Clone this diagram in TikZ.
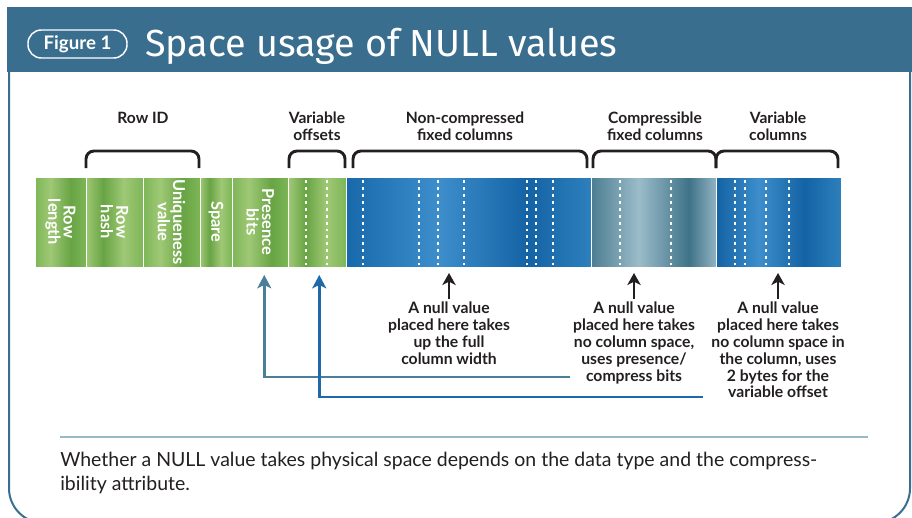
\documentclass[tikz,border=0pt]{standalone}
\usepackage{fontspec}
\setmainfont{Lato}
\newfontfamily\titlefont{Fira Sans}
\usetikzlibrary{positioning,arrows.meta,calc}

\definecolor{headblue}{HTML}{3A6E8F}
\definecolor{inkgrey}{HTML}{231F20}
\definecolor{bitsteal}{HTML}{4A7F99}
\definecolor{offsblue}{HTML}{1F68A9}
\definecolor{rulegrey}{HTML}{9BB8C9}
% greens of the row header
\definecolor{gD}{HTML}{68A444}
\definecolor{gM}{HTML}{7DB657}
\definecolor{gL}{HTML}{9FC875}
% blues of the column parts
\definecolor{ncA}{HTML}{1869AB}
\definecolor{ncB}{HTML}{3D8ECB}
\definecolor{ncC}{HTML}{1463A5}
\definecolor{ncD}{HTML}{2D80BC}
\definecolor{cpA}{HTML}{4D7D92}
\definecolor{cpB}{HTML}{9BBCC9}
\definecolor{cpC}{HTML}{3F7388}
\definecolor{cpD}{HTML}{93B4C3}

\pgfdeclarehorizontalshading{greenA}{100bp}{color(0bp)=(gM); color(25bp)=(gM); color(40bp)=(gL); color(60bp)=(gD); color(75bp)=(gM); color(100bp)=(gM)}
\pgfdeclarehorizontalshading{greenB}{100bp}{color(0bp)=(gL); color(25bp)=(gL); color(40bp)=(gD); color(58bp)=(gL); color(75bp)=(gM); color(100bp)=(gM)}
\pgfdeclarehorizontalshading{noncomp}{100bp}{color(0bp)=(ncA); color(25bp)=(ncA); color(44bp)=(ncB); color(62bp)=(ncC); color(75bp)=(ncD); color(100bp)=(ncD)}
\pgfdeclarehorizontalshading{compr}{100bp}{color(0bp)=(cpA); color(25bp)=(cpA); color(44bp)=(cpB); color(64bp)=(cpC); color(75bp)=(cpD); color(100bp)=(cpD)}
\pgfdeclarehorizontalshading{varcol}{100bp}{color(0bp)=(ncC); color(25bp)=(ncC); color(42bp)=(ncB); color(60bp)=(ncC); color(75bp)=(ncD); color(100bp)=(ncD)}

\newcommand{\px}{0.75pt}

\tikzset{
    seg/.style={shade, draw=white, line width=0.6pt, inner sep=0pt, outer sep=0pt,
        minimum height=90*\px},
    seglabel/.style={rotate=-90, align=center, text=white, inner sep=0pt,
        font=\bfseries\fontsize{12.3}{11.5}\selectfont},
    toplabel/.style={align=center, text=inkgrey, inner sep=0pt,
        font=\bfseries\fontsize{11.7}{12.8}\selectfont},
    note/.style={align=center, text=inkgrey, inner sep=0pt, anchor=north,
        font=\bfseries\fontsize{11.8}{12.6}\selectfont},
    brace/.style={draw=inkgrey, line width=2.2pt, rounded corners=6pt},
    dotline/.style={white, line width=1.5pt, dash pattern=on 2.2pt off 3pt},
    nullarrow/.style={-{Stealth[length=9pt, width=10pt, inset=2.5pt]}, inkgrey, line width=2pt,
        shorten >=4.5pt, shorten <=2pt},
    bitsline/.style={-{Stealth[length=10pt, width=10.5pt, inset=2.5pt]}, bitsteal, line width=2.2pt, shorten >=6pt},
    offsline/.style={-{Stealth[length=10pt, width=10.5pt, inset=2.5pt]}, offsblue, line width=2.2pt, shorten >=6pt},
}

\begin{document}
\begin{tikzpicture}[x=0.75pt, y=-0.75pt, node distance=0pt]
\useasboundingbox (0,0) rectangle (912,517);

% frame and heading band
\draw[headblue, line width=1.5pt, rounded corners=26pt] (9,60) -- (9,523) -- (910,523) -- (910,60);
\fill[headblue] (7,7) rectangle (912,72);
\node[draw=white, line width=1.1pt, rounded corners=10pt, minimum width=99*\px, minimum height=28*\px,
    inner sep=0pt, text=white, font=\bfseries\fontsize{14}{14}\selectfont] (fig) at (77.5,44) {Figure 1};
\node[anchor=base west, inner sep=0pt, text=white, font=\titlefont\fontsize{28.3}{30}\selectfont] (title) at (145,56) {Space usage of NULL values};

% the row
\node[seg, minimum width=51*\px, shading=greenA] (rowlen) at (60.5,222) {};
\node[seg, minimum width=57*\px, shading=greenB] (rowhash) [right=of rowlen] {};
\node[seg, minimum width=57*\px, shading=greenA] (uniq) [right=of rowhash] {};
\node[seg, minimum width=32*\px, shading=greenB] (spare) [right=of uniq] {};
\node[seg, minimum width=56.5*\px, shading=greenA] (presence) [right=of spare] {};
\node[seg, minimum width=57.5*\px, shading=greenB] (varoff) [right=of presence] {};
\node[seg, minimum width=245*\px, shading=noncomp] (fixed) [right=of varoff] {};
\node[seg, minimum width=125.5*\px, shading=compr] (comp) [right=of fixed] {};
\node[seg, minimum width=125*\px, shading=varcol] (varcols) [right=of comp] {};

\node[seglabel] (lrowlen) at (rowlen) {Row\\length};
\node[seglabel] (lrowhash) at (rowhash) {Row\\hash};
\node[seglabel] (luniq) at (uniq) {Uniqueness\\value};
\node[seglabel] (lspare) at (spare) {Spare};
\node[seglabel] (lpresence) at (presence) {Presence\\bits};

% column boundaries
\draw[dotline] (306,180) -- (306,265) (327,180) -- (327,265);
\draw[dotline] (363,180) -- (363,265) (419,180) -- (419,265) (438,180) -- (438,265)
    (464,180) -- (464,265) (527,180) -- (527,265) (536,180) -- (536,265) (553,180) -- (553,265);
\draw[dotline] (620,180) -- (620,265) (671,180) -- (671,265);
\draw[dotline] (735,180) -- (735,265) (745,180) -- (745,265) (766,180) -- (766,265) (789,180) -- (789,265);

% groups above the row
\draw[brace] (86,168) |- (143,151) -| (199,168);
\draw[brace] (289,168) |- (317,151) -| (345,168);
\draw[brace] (353,168) |- (470,151) -| (587,168);
\draw[brace] (593,168) |- (655,151) -| (716,168);
\draw[brace] (716,168) |- (777,151) -| (838,168);

\node[toplabel] (rowid) at (143,118) {Row ID};
\node[toplabel] (offsets) at (317,126.5) {Variable\\offsets};
\node[toplabel] (noncomp) at (465,126.5) {Non-compressed\\fixed columns};
\node[toplabel] (compressible) at (655,126.5) {Compressible\\fixed columns};
\node[toplabel] (variable) at (778,126.5) {Variable\\columns};

% where a null value goes
\node[note] (note1) at (449,302) {A null value\\placed here takes\\up the full\\column width};
\node[note] (note2) at (634,302) {A null value\\placed here takes\\no column space,\\uses presence/\\compress bits};
\node[note] (note3) at (778,302) {A null value\\placed here takes\\no column space in\\the column, uses\\2 bytes for the\\variable offset};

\draw[nullarrow] (note1.north) -- (note1.north |- fixed.south);
\draw[nullarrow] (note2.north) -- (note2.north |- comp.south);
\draw[nullarrow] (note3.north) -- (note3.north |- varcols.south);

\coordinate (cbits) at (570,377);
\coordinate (voffs) at (703,397);
\draw[bitsline] (cbits) -| ([xshift=3pt]presence.south);
\draw[offsline] (voffs) -| ([xshift=1.5pt]varoff.south);

% caption
\draw[rulegrey, line width=2.2pt] (60,437) -- (868,437);
\node[anchor=north west, align=left, inner sep=0pt, text=inkgrey, font=\fontsize{14.6}{18}\selectfont] (caption) at (60,452)
    {Whether a NULL value takes physical space depends on the data type and the compress-\\ibility attribute.};

\end{tikzpicture}
\end{document}
